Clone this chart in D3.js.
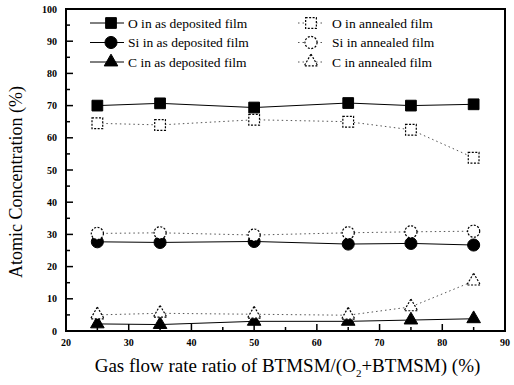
<!DOCTYPE html>
<html>
<head>
<meta charset="utf-8">
<script src="https://cdn.jsdelivr.net/npm/d3@7"></script>
<style>
  body { margin: 0; background: #fff; }
  text { font-family: "Liberation Serif", "DejaVu Serif", serif; fill: #000; }
</style>
</head>
<body>
<div id="chart"></div>
<script>
const flowRatio = [25, 35, 50, 65, 75, 85];
const oDeposited = [70, 70.7, 69.4, 70.8, 70, 70.4];
const oAnnealed = [64.5, 64, 65.6, 65, 62.5, 53.8];
const siDeposited = [27.7, 27.5, 27.8, 27, 27.2, 26.7];
const siAnnealed = [30.3, 30.5, 29.8, 30.5, 30.8, 31];
const cDeposited = [2.2, 2, 3, 3, 3.4, 3.8];
const cAnnealed = [5, 5.5, 5.2, 4.9, 7.5, 15.5];
const xTicks = [20, 30, 40, 50, 60, 70, 80, 90];
const yTicks = [0, 10, 20, 30, 40, 50, 60, 70, 80, 90, 100];

const margin = { top: 9, right: 9, bottom: 54, left: 66 };
const width = 514, height = 385;
const w = width - margin.left - margin.right;
const h = height - margin.top - margin.bottom;

const svg = d3.select("#chart").append("svg")
  .attr("width", width)
  .attr("height", height);
const g = svg.append("g").attr("transform", `translate(${margin.left},${margin.top})`);

const x = d3.scaleLinear().domain([20, 90]).range([0, w]);
const y = d3.scaleLinear().domain([0, 100]).range([h, 0]);

const series = [
  { name: "O  in as deposited film", values: oDeposited, shape: d3.symbolSquare, open: false },
  { name: "Si in as deposited film", values: siDeposited, shape: d3.symbolCircle, open: false },
  { name: "C  in as deposited film", values: cDeposited, shape: d3.symbolTriangle, open: false },
  { name: "O  in annealed film", values: oAnnealed, shape: d3.symbolSquare, open: true },
  { name: "Si in annealed film", values: siAnnealed, shape: d3.symbolCircle, open: true },
  { name: "C  in annealed film", values: cAnnealed, shape: d3.symbolTriangle, open: true }
];

// ticks (inward), minor every 5
const minorX = d3.range(20, 91, 5), minorY = d3.range(0, 101, 5);
g.selectAll(".xt").data(minorX).enter().append("line")
  .attr("x1", d => x(d)).attr("x2", d => x(d))
  .attr("y1", h).attr("y2", d => h - (d % 10 === 0 ? 7 : 4))
  .attr("stroke", "#000").attr("stroke-width", 1.5);
g.selectAll(".yt").data(minorY).enter().append("line")
  .attr("y1", d => y(d)).attr("y2", d => y(d))
  .attr("x1", 0).attr("x2", d => (d % 10 === 0 ? 7 : 4))
  .attr("stroke", "#000").attr("stroke-width", 1.5);

g.selectAll(".xl").data(xTicks).enter().append("text")
  .attr("x", d => x(d)).attr("y", h + 15)
  .attr("text-anchor", "middle")
  .style("font-size", "10px").style("font-weight", "bold")
  .text(d => d);
g.selectAll(".yl").data(yTicks).enter().append("text")
  .attr("x", -9).attr("y", d => y(d) + 3.5)
  .attr("text-anchor", "end")
  .style("font-size", "10px").style("font-weight", "bold")
  .text(d => d);

// frame
g.append("rect").attr("width", w).attr("height", h)
  .attr("fill", "none").attr("stroke", "#000").attr("stroke-width", 2);

const line = d3.line().x((d, i) => x(flowRatio[i])).y(d => y(d));
const sym = (shape) => d3.symbol().type(shape).size(shape === d3.symbolTriangle ? 80 : 115);

function drawMarker(sel, s) {
  sel.attr("d", sym(s.shape)())
    .attr("fill", s.open ? "#fff" : "#000")
    .attr("stroke", "#000")
    .attr("stroke-width", s.open ? 1.2 : 1)
    .attr("stroke-dasharray", s.open ? "2,1.5" : null);
}

series.forEach(s => {
  g.append("path").datum(s.values)
    .attr("d", line)
    .attr("fill", "none")
    .attr("stroke", s.open ? "#555" : "#000")
    .attr("stroke-width", 1)
    .attr("stroke-dasharray", s.open ? "1.5,3" : null);
});
series.forEach(s => {
  g.selectAll(null).data(s.values).enter().append("path")
    .attr("transform", (d, i) => `translate(${x(flowRatio[i])},${y(d)})`)
    .each(function () { drawMarker(d3.select(this), s); });
});

// legend
series.forEach((s, i) => {
  const col = i < 3 ? 0 : 1;
  const row = i % 3;
  const lx = col === 0 ? 24 : 232;
  const ly = 14 + row * 19.5;
  const lw = col === 0 ? 34 : 24;
  const lg = g.append("g").attr("transform", `translate(${lx},${ly})`);
  lg.append("line").attr("x1", 0).attr("x2", lw).attr("y1", 0).attr("y2", 0)
    .attr("stroke", s.open ? "#555" : "#000").attr("stroke-width", 1)
    .attr("stroke-dasharray", s.open ? "1.5,3" : null);
  drawMarker(lg.append("path").attr("transform", `translate(${col === 0 ? 21 : 13},0)`), s);
  lg.append("text").attr("x", col === 0 ? 38 : 34).attr("y", 4.5)
    .style("font-size", "13.5px")
    .text(s.name);
});

// axis titles
svg.append("text")
  .attr("transform", `translate(22,${margin.top + h / 2 + 12}) rotate(-90)`)
  .attr("text-anchor", "middle")
  .style("font-size", "18px")
  .text("Atomic Concentration (%)");

const xt = svg.append("text")
  .attr("x", margin.left + w / 2 + 2).attr("y", 372)
  .attr("text-anchor", "middle")
  .style("font-size", "19px");
xt.append("tspan").text("Gas flow rate ratio of BTMSM/(O");
xt.append("tspan").attr("dy", 5).style("font-size", "11px").text("2");
xt.append("tspan").attr("dy", -5).text("+BTMSM) (%)");
</script>
</body>
</html>
